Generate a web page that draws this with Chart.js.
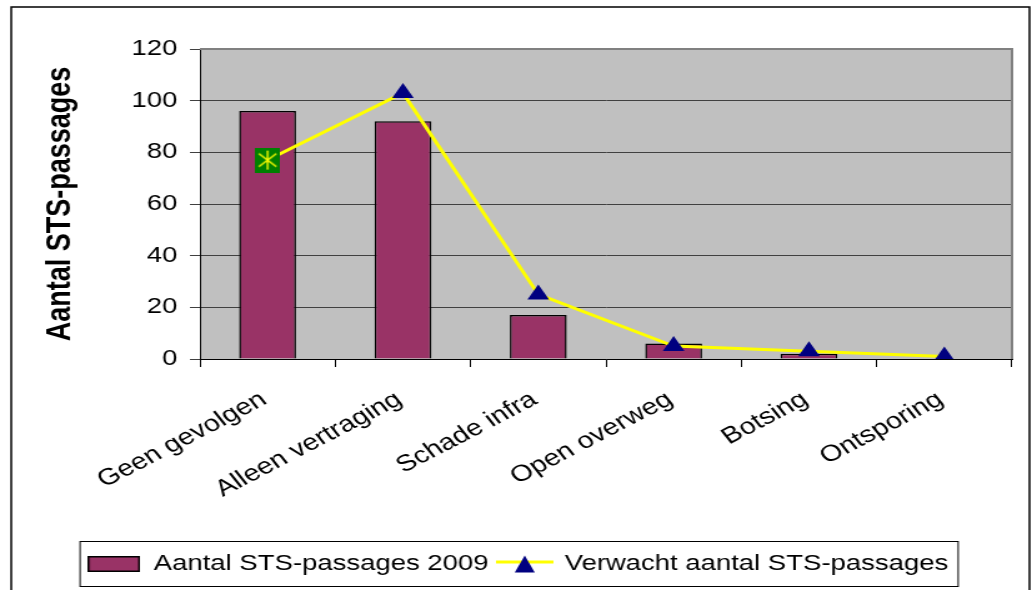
<!DOCTYPE html>
<html>
<head>
<meta charset="utf-8">
<script src="https://cdn.jsdelivr.net/npm/chart.js@4.4.1/dist/chart.umd.min.js"></script>
<style>
  html, body { margin: 0; padding: 0; background: #fff; }
</style>
</head>
<body>
<!-- the reference is stretched sideways, so the canvas is drawn narrow and widened -->
<canvas id="chart" width="826" height="590" style="display:block;width:1032px;height:590px"></canvas>
<script>
// ─── DATA ─────────────────────────────────────────────────────────────────────
const CATEGORIES = ["Geen gevolgen", "Alleen vertraging", "Schade infra", "Open overweg", "Botsing", "Ontsporing"];
const ACTUAL_2009 = [96, 92, 17, 6, 2, 0];
const EXPECTED = [77, 103, 25, 5, 3, 1];
const Y_TICKS = [0, 20, 40, 60, 80, 100, 120];

const BAR_LABEL = "Aantal STS-passages 2009";
const LINE_LABEL = "Verwacht aantal STS-passages";
const Y_TITLE = "Aantal STS-passages";

// ─── STYLE ────────────────────────────────────────────────────────────────────
const FONT = "'Liberation Sans', Arial, sans-serif";
const BAR_COLOR = "#993366";
const LINE_COLOR = "#FFFF00";
const MARKER_COLOR = "#000080";
const PLOT_BG = "#C0C0C0";

// ─── MARKER IMAGES ────────────────────────────────────────────────────────────
function makeCanvas(w, h, draw) {
  const c = document.createElement("canvas");
  c.width = w; c.height = h;
  draw(c.getContext("2d"), w, h);
  return c;
}

// green square with yellow asterisk (first point of the line)
const starMarker = makeCanvas(20, 25, (g, w, h) => {
  g.fillStyle = "#008000";
  g.fillRect(0, 0, w, h);
  g.strokeStyle = "#FFFF00";
  g.lineWidth = 1.4;
  g.beginPath();
  g.moveTo(w / 2, 3); g.lineTo(w / 2, h - 3);
  g.moveTo(3, 6); g.lineTo(w - 3, h - 6);
  g.moveTo(w - 3, 6); g.lineTo(3, h - 6);
  g.stroke();
});

const barLegendMarker = makeCanvas(42, 16, (g, w, h) => {
  g.fillStyle = BAR_COLOR;
  g.fillRect(1, 1, w - 2, h - 2);
  g.strokeStyle = "#000";
  g.lineWidth = 1.5;
  g.strokeRect(0.75, 0.75, w - 1.5, h - 1.5);
});

const lineLegendMarker = makeCanvas(46, 18, (g, w, h) => {
  g.strokeStyle = LINE_COLOR;
  g.lineWidth = 3;
  g.beginPath();
  g.moveTo(0, 7); g.lineTo(w, 7);
  g.stroke();
  g.fillStyle = MARKER_COLOR;
  g.beginPath();
  g.moveTo(w / 2, 0.5);
  g.lineTo(w / 2 + 8, h - 0.5);
  g.lineTo(w / 2 - 8, h - 0.5);
  g.closePath();
  g.fill();
});

// ─── PLUGINS ──────────────────────────────────────────────────────────────────
const frame = {
  id: "frame",
  beforeDraw(chart) {
    const { ctx, chartArea: a, width, height } = chart;
    ctx.save();
    ctx.fillStyle = "#fff";
    ctx.fillRect(0, 0, width, height);
    ctx.fillStyle = PLOT_BG;
    ctx.fillRect(a.left, a.top, a.right - a.left, a.bottom - a.top);
    ctx.restore();
  },
  beforeDatasetsDraw(chart) {
    const { ctx, chartArea: a } = chart;
    ctx.save();
    ctx.strokeStyle = "#808080";
    ctx.lineWidth = 2;
    ctx.beginPath();
    ctx.moveTo(a.left, a.top);
    ctx.lineTo(a.right, a.top);
    ctx.lineTo(a.right, a.bottom);
    ctx.stroke();
    ctx.restore();
  },
  afterDraw(chart) {
    const { ctx, width, height, legend } = chart;
    ctx.save();
    // outer frame, its bottom edge lies below the picture
    ctx.strokeStyle = "#000";
    ctx.lineWidth = 1.5;
    ctx.strokeRect(9, 7, width - 11, height + 10);

    // box round the legend
    const hb = legend.legendHitBoxes;
    if (hb && hb.length) {
      const first = hb[0], last = hb[hb.length - 1];
      const cy = first.top + first.height / 2;
      ctx.lineWidth = 1;
      ctx.strokeRect(first.left - 6, cy - 22.5, last.left + last.width - first.left + 14, 45);
    }
    ctx.restore();
  }
};

// ─── CHART ────────────────────────────────────────────────────────────────────
new Chart(document.getElementById("chart"), {
  type: "bar",
  data: {
    labels: CATEGORIES,
    datasets: [
      {
        type: "line",
        label: LINE_LABEL,
        data: EXPECTED,
        order: 1,
        borderColor: LINE_COLOR,
        borderWidth: 3,
        tension: 0,
        pointStyle: EXPECTED.map((_, i) => i === 0 ? starMarker : "triangle"),
        pointRadius: 10,
        pointBackgroundColor: MARKER_COLOR,
        pointBorderColor: MARKER_COLOR,
        pointBorderWidth: 0,
      },
      {
        label: BAR_LABEL,
        data: ACTUAL_2009,
        order: 2,
        backgroundColor: BAR_COLOR,
        borderColor: "#000",
        borderWidth: 1.5,
        categoryPercentage: 1,
        barPercentage: 0.42,
      }
    ]
  },
  options: {
    responsive: false,
    devicePixelRatio: 1,
    animation: false,
    layout: { padding: { top: 49, left: 19, right: 16, bottom: 5 } },
    scales: {
      x: {
        afterFit: s => { s.height = 186; },
        grid: { drawOnChartArea: false, drawTicks: true, tickLength: 8, color: "#000", offset: true },
        border: { display: true, color: "#000", width: 1 },
        ticks: {
          autoSkip: false, minRotation: 33, maxRotation: 33, padding: 19, labelOffset: -3,
          color: "#000", font: { family: FONT, size: 23 },
        },
      },
      y: {
        min: 0, max: 120,
        afterFit: s => { s.width = 141; },
        afterBuildTicks: s => { s.ticks = Y_TICKS.map(v => ({ value: v })); },
        grid: { color: "#404040", lineWidth: 1, tickLength: 8 },
        border: { display: true, color: "#000", width: 1 },
        ticks: { padding: 10, color: "#000", font: { family: FONT, size: 22 } },
        title: {
          display: true, text: Y_TITLE, color: "#000",
          padding: { top: 13, bottom: 0 },
          font: { family: FONT, size: 27, weight: "bold" },
        },
      },
    },
    plugins: {
      tooltip: { enabled: false },
      legend: {
        position: "bottom",
        labels: {
          usePointStyle: true,
          pointStyleWidth: 42,
          boxHeight: 18,
          padding: 8,
          color: "#000",
          font: { family: FONT, size: 22 },
          generateLabels: () => [
            { text: BAR_LABEL, pointStyle: barLegendMarker, fillStyle: BAR_COLOR, strokeStyle: "#000", lineWidth: 0, hidden: false, datasetIndex: 1 },
            { text: LINE_LABEL, pointStyle: lineLegendMarker, fillStyle: LINE_COLOR, strokeStyle: LINE_COLOR, lineWidth: 0, hidden: false, datasetIndex: 0 },
          ],
        },
      },
    },
  },
  plugins: [frame],
});
</script>
</body>
</html>
